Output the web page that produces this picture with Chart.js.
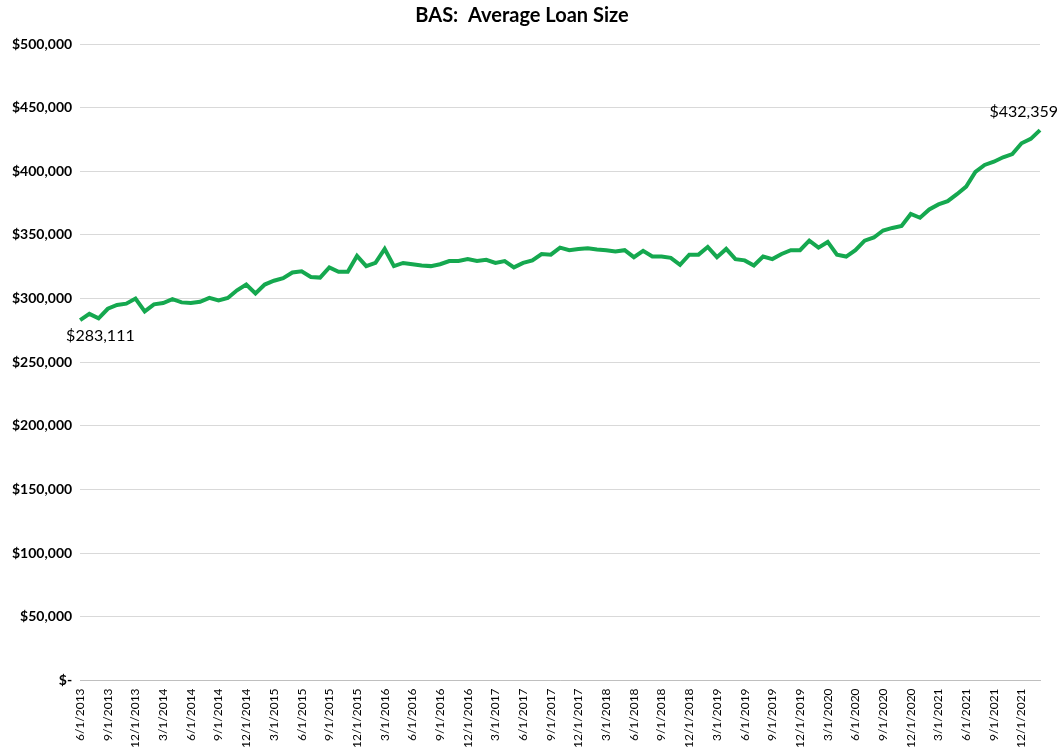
<!DOCTYPE html>
<html>
<head>
<meta charset="utf-8">
<script src="https://cdn.jsdelivr.net/npm/chart.js@4.4.1/dist/chart.umd.min.js"></script>
<style>
  html, body { margin: 0; padding: 0; background: #fff; }
  #wrap { width: 1062px; height: 755px; }
</style>
</head>
<body>
<div id="wrap"><canvas id="chart" width="1062" height="755"></canvas></div>
<script>
// --- DATA ---
const startYear = 2013, startMonth = 6, months = 105;
const labels = [];
for (let i = 0; i < months; i++) {
    const m = (startMonth - 1 + i) % 12 + 1;
    const y = startYear + Math.floor((startMonth - 1 + i) / 12);
    labels.push(m + "/1/" + y);
}

const avgLoan = [
    283111, 288000, 284500, 292000, 295000, 296000, 300000, 290000, 295500, 296500,
    299500, 297000, 296500, 297500, 300500, 298500, 300500, 306500, 311000, 304000,
    311000, 314000, 316000, 320500, 321500, 317000, 316500, 324500, 321000, 321000,
    333500, 325500, 328000, 339000, 325500, 328000, 327000, 326000, 325500, 327000,
    329500, 329500, 331000, 329500, 330500, 328000, 329500, 324500, 328000, 330000,
    335000, 334500, 340000, 338000, 339000, 339500, 338500, 338000, 337000, 338000,
    332500, 337500, 333000, 333000, 332000, 326500, 334500, 334500, 340500, 332500,
    339000, 331000, 330000, 326000, 333000, 331000, 335000, 338000, 338000, 345500,
    340000, 344500, 334500, 333000, 338000, 345500, 348000, 353500, 355500, 357000,
    366500, 363500, 370000, 374000, 376500, 382000, 388000, 399500, 405000, 407500,
    411000, 413500, 422000, 425500, 432359
];

const yTicks = [0, 50000, 100000, 150000, 200000, 250000, 300000, 350000, 400000, 450000, 500000];

const fmt = v => v === 0 ? "$-" : "$" + v.toLocaleString("en-US");

// --- END LABELS ---
const endLabels = {
    id: 'endLabels',
    afterDatasetsDraw(chart) {
        const ctx = chart.ctx;
        const pts = chart.getDatasetMeta(0).data;
        const first = pts[0], last = pts[pts.length - 1];
        ctx.save();
        ctx.font = '16px Lato, "Liberation Sans", sans-serif';
        ctx.fillStyle = '#000';
        ctx.textBaseline = 'middle';
        ctx.textAlign = 'left';
        ctx.fillText(fmt(avgLoan[0]), first.x - 14, first.y + 16);
        ctx.textAlign = 'right';
        ctx.fillText(fmt(avgLoan[avgLoan.length - 1]), last.x + 18, last.y - 18);
        ctx.restore();
    }
};

new Chart(document.getElementById('chart'), {
    type: 'line',
    data: {
        labels: labels,
        datasets: [{
            data: avgLoan,
            borderColor: '#15a84f',
            borderWidth: 4,
            pointRadius: 0,
            tension: 0,
            fill: false
        }]
    },
    options: {
        responsive: false,
        animation: false,
        layout: { padding: { left: 4, right: 22, top: 0, bottom: 4 } },
        plugins: {
            legend: { display: false },
            tooltip: { enabled: false },
            title: {
                display: true,
                text: 'BAS:  Average Loan Size',
                color: '#000',
                font: { family: 'Lato, "Liberation Sans", sans-serif', size: 20, weight: 'bold' },
                padding: { top: 4, bottom: 16 }
            }
        },
        scales: {
            x: {
                offset: false,
                grid: { display: false, drawTicks: true, tickLength: 5, color: '#bfbfbf' },
                border: { display: true, color: '#bfbfbf' },
                ticks: {
                    autoSkip: false,
                    minRotation: 90,
                    maxRotation: 90,
                    color: '#000',
                    font: { family: 'Lato, "Liberation Sans", sans-serif', size: 12 },
                    callback: (v, i) => i % 3 === 0 ? labels[i] : ''
                }
            },
            y: {
                min: 0,
                max: 500000,
                afterBuildTicks: axis => { axis.ticks = yTicks.map(v => ({ value: v })); },
                grid: { color: '#d9d9d9', drawTicks: false },
                border: { display: false },
                ticks: {
                    padding: 8,
                    color: '#000',
                    font: { family: 'Lato, "Liberation Sans", sans-serif', size: 14, weight: 'bold' },
                    callback: v => fmt(v)
                }
            }
        }
    },
    plugins: [endLabels]
});
</script>
</body>
</html>
